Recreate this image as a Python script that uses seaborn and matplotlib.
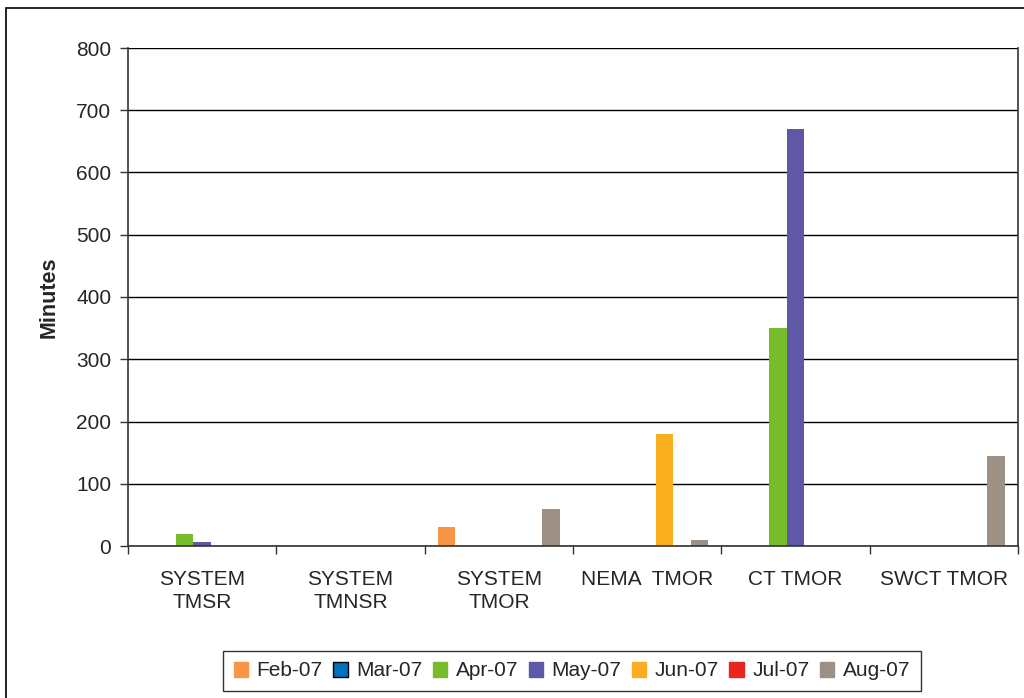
import matplotlib
matplotlib.use("Agg")
import matplotlib.pyplot as plt
from matplotlib.patches import Rectangle
import seaborn as sns
import pandas as pd

categories = ["SYSTEM\nTMSR", "SYSTEM\nTMNSR", "SYSTEM\nTMOR", "NEMA  TMOR", "CT TMOR", "SWCT TMOR"]
months = ["Feb-07", "Mar-07", "Apr-07", "May-07", "Jun-07", "Jul-07", "Aug-07"]
feb = [0, 0, 30, 0, 0, 0]
mar = [0, 0, 0, 0, 0, 0]
apr = [20, 0, 0, 0, 350, 0]
may = [6, 0, 0, 0, 670, 0]
jun = [0, 0, 0, 180, 0, 0]
jul = [0, 0, 0, 0, 0, 0]
aug = [0, 0, 60, 10, 0, 145]
colors = ["#F79646", "#0070C0", "#77BC2A", "#5F58A6", "#F9AE1E", "#E8261F", "#9C9184"]

series = [feb, mar, apr, may, jun, jul, aug]
rows = []
for m, vals in zip(months, series):
    for c, v in zip(categories, vals):
        rows.append({"Category": c, "Month": m, "Minutes": v})
df = pd.DataFrame(rows)

sns.set_theme(style="white")
plt.rcParams["font.family"] = ["Liberation Sans", "DejaVu Sans"]

fig = plt.figure(figsize=(10.24, 6.98), dpi=100)
ax = fig.add_axes([128 / 1024, 1 - 546 / 698, (1018 - 128) / 1024, (546 - 48) / 698])

sns.barplot(data=df, x="Category", y="Minutes", hue="Month", order=categories,
            hue_order=months, palette=colors, width=0.82, saturation=1,
            linewidth=0, ax=ax, legend=False)

ax.set_ylim(0, 800)
ax.set_xlim(-0.5, len(categories) - 0.5)
ax.set_yticks(range(0, 801, 100))
ax.yaxis.grid(True, color="black", linewidth=1.0)
ax.set_axisbelow(True)
ax.set_xlabel("")
ax.set_ylabel("Minutes", fontsize=15.5, fontweight="bold", labelpad=12)

ax.spines["top"].set_visible(False)
ax.spines["right"].set_visible(True)
for s in ["left", "bottom", "right"]:
    ax.spines[s].set_color("#333333")
    ax.spines[s].set_linewidth(1.2)

ax.set_xticks([i - 0.5 for i in range(len(categories) + 1)], minor=False)
ax.set_xticklabels([])
ax.set_xticks(range(len(categories)), minor=True)
ax.set_xticklabels(categories, minor=True, fontsize=15, linespacing=1.3)
ax.tick_params(axis="x", which="major", direction="out", length=6, width=1, color="#333333", bottom=True)
ax.tick_params(axis="x", which="minor", length=0, pad=17)
ax.tick_params(axis="y", direction="out", length=6, width=1, color="#333333", left=True, labelsize=15, pad=6)

handles = []
for m, col in zip(months, colors):
    ec = "black" if m == "Mar-07" else col
    handles.append(Rectangle((0, 0), 1, 1, facecolor=col, edgecolor=ec, linewidth=1))
leg = fig.legend(handles, months, loc="center", bbox_to_anchor=(572 / 1024, 1 - 671 / 698),
                 ncol=7, frameon=True, fontsize=15, handlelength=0.7, handleheight=0.7,
                 handletextpad=0.4, columnspacing=0.5, borderpad=0.5, fancybox=False)
leg.get_frame().set_edgecolor("black")
leg.get_frame().set_linewidth(1)

fig.patches.append(Rectangle((6 / 1024, -0.1), 1.2, 1 - 8 / 698 + 0.1, transform=fig.transFigure,
                             fill=False, edgecolor="black", linewidth=1.2))

fig.savefig("out.png", dpi=100)
